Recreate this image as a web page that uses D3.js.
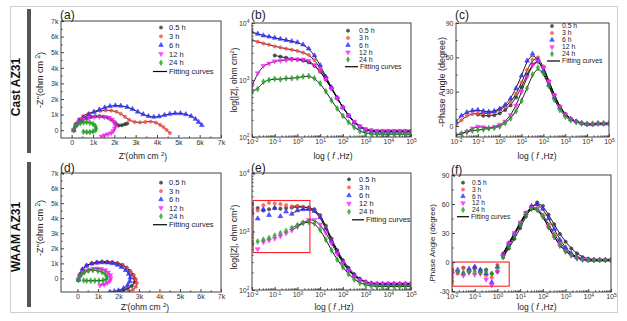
<!DOCTYPE html>
<html><head><meta charset="utf-8">
<script src="https://cdn.jsdelivr.net/npm/d3@7"></script>
<style>
body{margin:0;background:#fff}
svg{font-family:"Liberation Sans",Arial,sans-serif}
</style>
</head><body>
<svg id="fig" width="627" height="321"></svg>
<script>
// series, in legend order
const seriesNames = ["0.5 h", "3 h", "6 h", "12 h", "24 h"];
const seriesColors = ["#333333", "#ff4a4a", "#2b2bff", "#ff22ff", "#22a022"];
const seriesShapes = ["circle", "circle", "triangle", "triangleDown", "diamond"];

// Nyquist data, [Z', -Z''] in k ohm cm2
const castNyquist = [
  [[0.1,0.0],[0.2,0.3],[0.35,0.52],[0.5,0.65],[0.7,0.77],[0.9,0.85],[1.1,0.89],[1.3,0.9],[1.5,0.87],[1.7,0.8],[1.85,0.68],[2.0,0.52],[2.1,0.38],[2.2,0.3],[2.35,0.32],[2.5,0.38],[2.6,0.43]],
  [[0.08,0.05],[0.18,0.4],[0.35,0.7],[0.55,0.92],[0.8,1.08],[1.05,1.18],[1.35,1.24],[1.6,1.27],[1.85,1.26],[2.1,1.18],[2.3,1.05],[2.5,0.86],[2.7,0.66],[2.95,0.53],[3.2,0.5],[3.45,0.53],[3.7,0.55],[3.95,0.48],[4.15,0.34],[4.3,0.2],[4.45,0.02],[4.6,-0.18]],
  [[0.1,0.0],[0.2,0.35],[0.35,0.6],[0.55,0.8],[0.8,1.0],[1.05,1.17],[1.3,1.32],[1.55,1.45],[1.8,1.54],[2.05,1.58],[2.3,1.56],[2.6,1.48],[2.85,1.35],[3.1,1.18],[3.35,1.02],[3.6,0.9],[3.85,0.85],[4.1,0.88],[4.35,0.97],[4.6,1.04],[4.85,1.08],[5.1,1.08],[5.35,1.02],[5.6,0.9],[5.8,0.72],[5.95,0.52],[6.1,0.32]],
  [[0.1,0.02],[0.2,0.3],[0.35,0.52],[0.55,0.7],[0.8,0.8],[1.05,0.85],[1.3,0.86],[1.55,0.85],[1.75,0.8],[1.9,0.68],[2.0,0.5],[2.05,0.3],[2.02,0.12],[1.95,-0.05],[1.85,-0.18],[1.7,-0.26],[1.55,-0.32],[1.4,-0.4]],
  [[0.1,0.0],[0.15,0.2],[0.25,0.35],[0.4,0.45],[0.55,0.5],[0.7,0.52],[0.85,0.48],[1.0,0.4],[1.1,0.28],[1.15,0.12],[1.12,0.0],[1.0,-0.08],[0.85,-0.12],[0.7,-0.12],[0.55,-0.1]]
];
const waamNyquist = [
  [[0.05,-0.1],[0.12,0.25],[0.25,0.6],[0.45,0.85],[0.7,1.0],[0.95,1.08],[1.2,1.1],[1.45,1.1],[1.7,1.08],[1.95,1.02],[2.2,0.9],[2.4,0.72],[2.55,0.5],[2.7,0.25],[2.78,0.0],[2.78,-0.25],[2.65,-0.5],[2.45,-0.68],[2.25,-0.8],[2.05,-0.88]],
  [[0.05,-0.1],[0.12,0.25],[0.25,0.6],[0.45,0.85],[0.7,1.0],[0.95,1.07],[1.2,1.1],[1.45,1.1],[1.7,1.07],[1.95,1.0],[2.2,0.88],[2.4,0.7],[2.6,0.45],[2.75,0.2],[2.85,-0.05],[2.9,-0.3],[2.85,-0.55],[2.7,-0.75],[2.5,-0.85]],
  [[0.05,-0.1],[0.12,0.25],[0.25,0.6],[0.45,0.85],[0.7,0.98],[0.95,1.04],[1.2,1.06],[1.45,1.05],[1.7,1.0],[1.95,0.9],[2.15,0.75],[2.35,0.55],[2.5,0.3],[2.58,0.05],[2.55,-0.2],[2.45,-0.45],[2.25,-0.65],[2.0,-0.8],[1.8,-0.85],[1.6,-0.9]],
  [[0.05,-0.05],[0.15,0.2],[0.3,0.4],[0.5,0.55],[0.75,0.63],[0.95,0.66],[1.15,0.63],[1.35,0.55],[1.5,0.4],[1.6,0.22],[1.62,0.02],[1.58,-0.15],[1.45,-0.3],[1.3,-0.4],[1.1,-0.45]],
  [[0.05,-0.1],[0.1,0.1],[0.2,0.28],[0.35,0.42],[0.55,0.52],[0.75,0.55],[1.0,0.5],[1.2,0.42],[1.35,0.3],[1.45,0.12],[1.4,-0.05],[1.25,-0.12],[1.05,-0.15],[0.85,-0.15],[0.65,-0.15],[0.45,-0.15],[0.3,-0.13]]
];

// Bode data, frequency as log10(f/Hz)
const logF = [-2,-1.75,-1.5,-1.25,-1,-0.75,-0.5,-0.25,0,0.25,0.5,0.75,1,1.25,1.5,1.75,2,2.25,2.5,2.75,3,3.25,3.5,3.75,4,4.25,4.5,4.75,5];

// log10 |Z|
const castModulus = [
  [null,null,null,null,3.43,3.41,3.39,3.37,3.36,3.34,3.31,3.25,3.15,3.01,2.85,2.68,2.52,2.38,2.26,2.18,2.13,2.11,2.10,2.10,2.10,2.10,2.10,2.10,2.10],
  [3.70,3.67,3.64,3.62,3.59,3.57,3.55,3.53,3.51,3.48,3.44,3.35,3.21,3.04,2.86,2.68,2.52,2.38,2.26,2.18,2.13,2.11,2.10,2.10,2.10,2.10,2.10,2.10,2.10],
  [3.84,3.81,3.78,3.76,3.74,3.72,3.70,3.68,3.66,3.62,3.55,3.43,3.26,3.06,2.87,2.69,2.52,2.37,2.25,2.17,2.12,2.10,2.09,2.09,2.09,2.09,2.09,2.09,2.09],
  [2.90,3.12,3.25,3.29,3.33,3.34,3.35,3.36,3.36,3.36,3.34,3.26,3.16,3.01,2.85,2.68,2.52,2.38,2.27,2.19,2.14,2.12,2.11,2.11,2.11,2.11,2.11,2.11,2.11],
  [2.80,2.84,2.97,3.00,3.02,3.01,3.03,3.03,3.04,3.06,3.07,3.03,2.94,2.80,2.64,2.50,2.37,2.26,2.17,2.10,2.07,2.05,2.05,2.05,2.05,2.05,2.05,2.05,2.05]
];
const waamModulus = [
  [3.47,3.40,3.36,3.38,3.40,3.39,3.40,3.41,3.42,3.42,3.41,3.38,3.28,3.10,2.88,2.68,2.51,2.38,2.27,2.19,2.14,2.11,2.10,2.09,2.09,2.09,2.09,2.09,2.09],
  [3.38,3.36,3.45,3.49,3.48,3.47,3.45,3.43,3.44,3.42,3.40,3.36,3.26,3.07,2.85,2.65,2.48,2.35,2.25,2.18,2.14,2.12,2.11,2.11,2.11,2.11,2.11,2.11,2.11],
  [3.33,3.22,3.38,3.28,3.40,3.26,3.34,3.30,3.36,3.38,3.38,3.35,3.24,3.05,2.84,2.65,2.48,2.35,2.25,2.18,2.13,2.11,2.10,2.10,2.10,2.10,2.10,2.10,2.10],
  [2.78,2.70,2.82,2.85,2.88,2.92,2.97,3.02,3.08,3.15,3.20,3.20,3.12,2.98,2.80,2.62,2.46,2.33,2.23,2.17,2.13,2.11,2.11,2.11,2.11,2.11,2.11,2.11,2.11],
  [2.80,2.83,2.86,2.89,2.93,2.97,3.01,3.06,3.11,3.15,3.16,3.14,3.03,2.86,2.68,2.52,2.39,2.27,2.18,2.12,2.09,2.07,2.06,2.06,2.06,2.06,2.06,2.06,2.06]
];

// -phase angle, degree
const castPhase = [
  [null,null,null,null,10,9,9,9.5,11,14,18,25,34,45,54,57.5,51,39,27,17,10,6,4,2.5,1.5,1.5,2,2,2],
  [1,5,9,10.5,11,11,11,12,14,17,21,28,38,49,58,60,52,39,27,17,10.5,6.5,4,2.5,1.5,1.5,2,2,2],
  [4,9,12,13.5,14,13,12.5,13,15,18.5,24,33,44,57,63,58,48,36,25,16,10,6,4,2.5,1.5,1.5,2,2,2],
  [-8,-7,-5,-2,-0.5,-1,-2,-1,1,4,9.5,18,30,43,53,57,51,39,27,17,10,6,3.5,2,1.5,1.5,2,2,2],
  [-8,-6.5,-5,-4,-3.5,-3,-2,-1.5,-0.5,2.5,6.5,13,22,33,45,51,46,35,23,14,8,5,3.5,2.5,2,2,2.5,2.5,2.5]
];
const waamPhase = [
  [-8,-10,-6,-9,-7,-10,-8,-12,-10,5,14,24,35,47,57,61.5,58,49,39,29,21,14,9,5,3.5,2.5,2.5,2.5,2.5],
  [-8,-12,-6,-10,-5,-8,-14,-16,-3,9,20,30,40,51,57,56,49,39,29,20,13,8,5,3,2,2,2,2,2],
  [-10,-8,-12,-7,-5,-8,-12,-21,-5,8,19,29,39,50,58,60,55,45,34,23,15,9,5,3,2,2,2,2,2],
  [-12,-10,-14,-11,-13,-12,-18,-24,-10,6,19,30,41,51,56,55,47,36,26,17,11,7,4,2.5,2,2,2,2,2],
  [-20,-10,-11,-10,-10,-11,-10,-12,-6,5,16,27,39,49,55,54,47,36,26,17,11,7,4,2.5,2,2,2,2,2]
];

const nyqTicks = [0,1,2,3,4,5,6,7];
const decadeTicks = [-2,-1,0,1,2,3,4,5];

const svg = d3.select("#fig");
const shapeType = {circle: d3.symbolCircle, triangle: d3.symbolTriangle, triangleDown: d3.symbolTriangle, diamond: d3.symbolDiamond};

function marker(g, i, px, py, sz){
  let s = seriesShapes[i];
  let k = sz || 1;
  g.append("path")
    .attr("d", d3.symbol().type(shapeType[s]).size((s === "circle" ? 9 : 10) * k)())
    .attr("transform", "translate(" + px + "," + py + ")" + (s === "triangleDown" ? " rotate(180)" : ""))
    .attr("fill", seriesColors[i]).attr("fill-opacity", 0.8)
    .attr("stroke", seriesColors[i]).attr("stroke-width", 0.5);
}

function logLabels(axisG){
  axisG.selectAll(".tick text").each(function(d){
    let t = d3.select(this);
    t.text("10");
    t.append("tspan").attr("dy", "-0.55em").attr("font-size", "5px").text(d);
  });
}

function minorLog(lo, hi){
  let out = [];
  for (let k = Math.floor(lo); k < hi; k++)
    for (let m = 2; m < 10; m++){ let v = k + Math.log10(m); if (v > lo && v < hi) out.push(v); }
  return out;
}

function panel(p){
  let g = svg.append("g");
  let [x0, x1, y0, y1] = p.box;
  let x = d3.scaleLinear().domain(p.xDomain).range([x0, x1]);
  let y = d3.scaleLinear().domain(p.yDomain).range([y1, y0]);

  svg.append("clipPath").attr("id", "clip" + p.key).append("rect")
    .attr("x", x0).attr("y", y0).attr("width", x1 - x0).attr("height", y1 - y0);
  let plot = g.append("g").attr("clip-path", "url(#clip" + p.key + ")");

  let series = p.series;

  // fitting curves under the markers
  let line = d3.line().x(d => x(d[0])).y(d => y(d[1])).curve(p.nyquist ? d3.curveCatmullRom : d3.curveBasis);
  series.forEach(pts => {
    let fitPts = pts.filter(d => d[0] >= p.fitFrom);
    plot.append("path").attr("d", line(fitPts))
      .attr("fill", "none").attr("stroke", "#000").attr("stroke-width", 0.9);
  });
  series.forEach((pts, i) => {
    let sg = plot.append("g");
    pts.forEach(d => marker(sg, i, x(d[0]), y(d[1])));
  });

  // red boxes around low frequency scatter
  if (p.redBox){
    let r = p.redBox;
    g.append("rect").attr("x", x(r[0])).attr("y", y(r[3]))
      .attr("width", x(r[1]) - x(r[0])).attr("height", y(r[2]) - y(r[3]))
      .attr("fill", "none").attr("stroke", "#ff2020").attr("stroke-width", 1.1);
  }

  // frame
  g.append("rect").attr("x", x0).attr("y", y0).attr("width", x1 - x0).attr("height", y1 - y0)
    .attr("fill", "none").attr("stroke", "#444").attr("stroke-width", 1);

  // axes
  let ax = g.append("g").attr("transform", "translate(0," + y1 + ")")
    .call(d3.axisBottom(x).tickValues(p.xTicks).tickSizeInner(-3).tickSizeOuter(0).tickPadding(2.5)
      .tickFormat(p.nyquist ? (d => d === 0 ? "0" : d + "k") : (d => d)));
  let ay = g.append("g").attr("transform", "translate(" + x0 + ",0)")
    .call(d3.axisLeft(y).tickValues(p.yTicks).tickSizeInner(-3).tickSizeOuter(0).tickPadding(2.5)
      .tickFormat(p.yLog ? (d => d) : p.nyquist ? (d => d === 0 ? "0" : d + "k") : (d => d)));
  if (!p.nyquist) logLabels(ax);
  if (p.yLog) logLabels(ay);

  // minor ticks
  let mx = p.nyquist ? p.xTicks.slice(0, -1).map(v => v + 0.5) : minorLog(p.xDomain[0], p.xDomain[1]);
  let mxAxis = g.append("g").attr("transform", "translate(0," + y1 + ")")
    .call(d3.axisBottom(x).tickValues(mx).tickSizeInner(-1.6).tickSizeOuter(0).tickFormat(""));
  let my = p.yLog ? minorLog(p.yDomain[0], p.yDomain[1]) : p.yMinor;
  let myAxis = g.append("g").attr("transform", "translate(" + x0 + ",0)")
    .call(d3.axisLeft(y).tickValues(my).tickSizeInner(-1.6).tickSizeOuter(0).tickFormat(""));

  [ax, ay, mxAxis, myAxis].forEach(a => {
    a.select(".domain").remove();
    a.selectAll(".tick line").attr("stroke", "#444");
    a.selectAll(".tick text").attr("font-size", "7px").attr("fill", "#333")
      .attr("font-family", "'Liberation Sans', Arial, sans-serif");
  });

  // panel label
  g.append("text").attr("x", x0 - 1).attr("y", p.labelY).attr("font-size", "12px").attr("fill", "#222")
    .text("(" + p.key + ")");

  // axis titles
  let xt = g.append("text").attr("x", p.xTitle[0]).attr("y", p.xTitle[1]).attr("text-anchor", "middle")
    .attr("font-size", "8.5px").attr("fill", "#222");
  let yt = g.append("text").attr("transform", "translate(" + p.yTitle[0] + "," + p.yTitle[1] + ") rotate(-90)")
    .attr("text-anchor", "middle").attr("font-size", p.yTitleSize + "px").attr("fill", "#222");
  if (p.nyquist){
    xt.text("Z'(ohm cm "); xt.append("tspan").attr("dy", "-0.5em").attr("font-size", "6px").text("2");
    xt.append("tspan").attr("dy", "0.5em").text(")");
    yt.text("-Z''(ohm cm "); yt.append("tspan").attr("dy", "-0.5em").attr("font-size", "6.5px").text("2");
    yt.append("tspan").attr("dy", "0.5em").text(")");
  } else {
    xt.text("log ( "); xt.append("tspan").attr("font-style", "italic").text("f");
    xt.append("tspan").text(" ,Hz)");
    if (p.yLog){
      yt.text("log(|Z|, ohm cm"); yt.append("tspan").attr("dy", "-0.5em").attr("font-size", "6px").text("2");
      yt.append("tspan").attr("dy", "0.5em").text(")");
    } else {
      yt.text(p.phaseTitle);
    }
  }

  // legend
  let L = p.legend;
  seriesNames.forEach((name, i) => {
    let ry = L.y + i * L.dy;
    marker(g, i, L.mx, ry, 0.9);
    g.append("text").attr("x", L.tx).attr("y", ry).attr("dy", "0.35em")
      .attr("font-size", L.fs + "px").attr("fill", "#222").text(name);
  });
  let fy = L.y + 5 * L.dy;
  g.append("line").attr("x1", L.lx[0]).attr("x2", L.lx[1]).attr("y1", fy).attr("y2", fy)
    .attr("stroke", "#000").attr("stroke-width", 1.2);
  g.append("text").attr("x", L.lx[1] + 2).attr("y", fy).attr("dy", "0.35em")
    .attr("font-size", L.fs + "px").attr("fill", "#222").text("Fitting curves");
}

function bodeSeries(arr){
  return arr.map(vals => logF.map((f, j) => [f, vals[j]]).filter(d => d[1] !== null));
}

// outer frame and row labels
svg.append("rect").attr("x", 10.5).attr("y", 6.5).attr("width", 607).attr("height", 306)
  .attr("fill", "none").attr("stroke", "#cfcfcf").attr("stroke-width", 1);
svg.append("rect").attr("x", 27).attr("y", 9).attr("width", 4).attr("height", 144).attr("fill", "#555");
svg.append("rect").attr("x", 27).attr("y", 162).attr("width", 4).attr("height", 145).attr("fill", "#555");
svg.append("text").attr("transform", "translate(20,87) rotate(-90)").attr("text-anchor", "middle")
  .attr("font-size", "12px").attr("font-weight", "bold").attr("fill", "#111").text("Cast AZ31");
svg.append("text").attr("transform", "translate(20,237) rotate(-90)").attr("text-anchor", "middle")
  .attr("font-size", "12px").attr("font-weight", "bold").attr("fill", "#111").text("WAAM AZ31");

panel({key: "a", nyquist: true, box: [61, 221, 21, 138], xDomain: [-0.5, 7], yDomain: [-0.5, 7],
  xTicks: nyqTicks, yTicks: nyqTicks, yMinor: [0.5,1.5,2.5,3.5,4.5,5.5,6.5], series: castNyquist, fitFrom: -99,
  labelY: 19, xTitle: [143, 158.5], yTitle: [43, 80], yTitleSize: 9,
  legend: {mx: 161, tx: 169, y: 27.5, dy: 8.8, lx: [153, 167], fs: 7.5}});
panel({key: "b", box: [252, 411, 23, 137], xDomain: [-2, 5], yDomain: [2, 4], yLog: true,
  xTicks: decadeTicks, yTicks: [2, 3, 4], series: bodeSeries(castModulus), fitFrom: -99,
  labelY: 19, xTitle: [333, 158.5], yTitle: [237, 80], yTitleSize: 8.5,
  legend: {mx: 348, tx: 359, y: 30.7, dy: 7.2, lx: [345, 358], fs: 7}});
panel({key: "c", box: [456, 609, 23, 137], xDomain: [-2, 5], yDomain: [-9.6, 90],
  xTicks: decadeTicks, yTicks: [0, 30, 60, 90], yMinor: [15, 45, 75], series: bodeSeries(castPhase), fitFrom: -99,
  labelY: 19, xTitle: [537, 158.5], yTitle: [445, 82], yTitleSize: 9, phaseTitle: "-Phase Angle (degree)",
  legend: {mx: 552, tx: 562, y: 26, dy: 7, lx: [547, 560], fs: 6.8}});
panel({key: "d", nyquist: true, box: [61, 221, 173, 292], xDomain: [-0.8, 7], yDomain: [-0.9, 7],
  xTicks: nyqTicks, yTicks: nyqTicks, yMinor: [0.5,1.5,2.5,3.5,4.5,5.5,6.5], series: waamNyquist, fitFrom: -99,
  labelY: 172, xTitle: [145, 310], yTitle: [43, 228], yTitleSize: 9,
  legend: {mx: 161, tx: 169, y: 182.7, dy: 8.4, lx: [153, 167], fs: 7.5}});
panel({key: "e", box: [252, 411, 173, 290], xDomain: [-2, 5], yDomain: [2, 4], yLog: true,
  xTicks: decadeTicks, yTicks: [2, 3, 4], series: bodeSeries(waamModulus), fitFrom: -0.3,
  labelY: 172, xTitle: [334, 310], yTitle: [237, 237], yTitleSize: 8.5,
  redBox: [-1.95, 0.55, 2.64, 3.53],
  legend: {mx: 349, tx: 359, y: 179.3, dy: 8.1, lx: [352, 364], fs: 7.5}});
panel({key: "f", box: [452, 611, 175, 292], xDomain: [-2, 5], yDomain: [-31, 90],
  xTicks: decadeTicks, yTicks: [-30, 0, 30, 60, 90], yMinor: [-15, 15, 45, 75], series: bodeSeries(waamPhase), fitFrom: 0.2,
  labelY: 174, xTitle: [537, 310], yTitle: [435, 244], yTitleSize: 8, phaseTitle: ".Phase Angle (degree)",
  redBox: [-1.96, 0.52, -25, 0],
  legend: {mx: 463, tx: 472, y: 182.7, dy: 6.8, lx: [457, 469], fs: 6.6}});
</script>
</body></html>
